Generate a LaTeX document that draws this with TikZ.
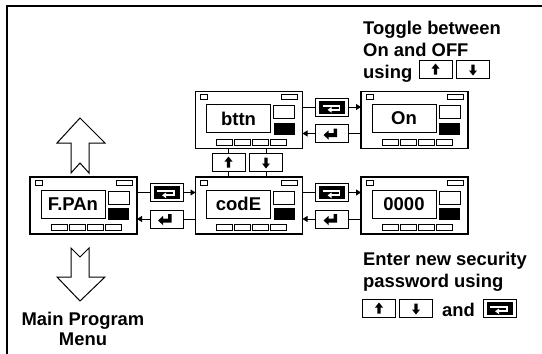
\documentclass[tikz,border=0pt]{standalone}
\usepackage{fontspec}
\setmainfont{Liberation Sans}
\usetikzlibrary{arrows.meta}

\tikzset{
  panel/.style={draw, line width=1.3pt, minimum width=107pt, minimum height=57pt, inner sep=0pt, outer sep=0pt},
  part/.style={line width=0.9pt},
  screen/.style={font=\fontsize{18.5}{20}\selectfont\bfseries, inner sep=0pt},
  note/.style={font=\fontsize{18.4}{22}\selectfont\bfseries, inner sep=0pt},
  keybox/.style={draw, line width=0.9pt, minimum width=33pt, minimum height=18pt, inner sep=0pt, outer sep=0pt},
  keyup/.style={keybox, path picture={
      \fill[shift={(path picture bounding box.center)}] (0,-6) -- (4,-1) -- (1.7,-1) -- (1.7,5) -- (-1.7,5) -- (-1.7,-1) -- (-4,-1) -- cycle;}},
  keydown/.style={keybox, path picture={
      \fill[shift={(path picture bounding box.center)}] (0,6) -- (4,1) -- (1.7,1) -- (1.7,-5) -- (-1.7,-5) -- (-1.7,1) -- (-4,1) -- cycle;}},
  keyenter/.style={keybox, path picture={
      \fill[shift={(path picture bounding box.center)}] (5,-5) -- (5,3.5) -- (-3.5,3.5) -- (-3.5,6) -- (-8.5,1.5) -- (-3.5,-3) -- (-3.5,-0.5) -- (1.5,-0.5) -- (1.5,-5) -- cycle;}},
  keyloop/.style={keybox, path picture={
      \begin{scope}[shift={(path picture bounding box.center)}]
        \fill (-13,-6.5) rectangle (13,6.5);
        \draw[white, line width=1.8pt] (-9.5,-1.2) -- (7.5,-1.2) -- (7.5,2.8) -- (-1,2.8);
        \fill[white] (-0.5,0) -- (-4.5,2.8) -- (-0.5,5.6) -- cycle;
      \end{scope}}},
  flow/.style={line width=0.9pt, -{Triangle[length=5pt,width=6pt]}},
  wire/.style={line width=0.9pt},
  hollow/.style={line width=1pt, line join=miter},
}

% one front panel: name, centre, display text
\newcommand{\drawpanel}[3]{%
  \node[panel] (#1) at (#2) {};
  \begin{scope}[shift={(#1.north west)}]
    \draw[part] (5,3) rectangle (12,8);
    \draw[part] (86,3) rectangle (102,8);
    \draw[part] (11,13) rectangle (75,41);
    \draw[part] (78,14) rectangle (99,27);
    \fill (78,31) rectangle (99,43);
    \foreach \bx in {21,39,57,75}
      \draw[part] (\bx,47.5) rectangle (\bx+16,53.5);
    \node[screen] at (43,27) {#3};
  \end{scope}}

\begin{document}
\begin{tikzpicture}[x=1pt, y=-1pt]
  \useasboundingbox (0,0) rectangle (542,354);
  \draw[line width=2pt] (7,354) -- (7,6) -- (542,6);

  % panels
  \drawpanel{fpan}{83.5,205.5}{F.PAn}
  \drawpanel{code}{249,205.5}{codE}
  \drawpanel{bttn}{249,120}{bttn}
  \drawpanel{on}{414.5,120}{On}
  \drawpanel{pass}{414.5,205.5}{0000}

  % keys between panels
  \node[keyloop] (sfc) at (166.5,192.5) {};
  \node[keyenter] (efc) at (166.5,219) {};
  \node[keyloop] (scp) at (332,192.5) {};
  \node[keyenter] (ecp) at (332,219) {};
  \node[keyloop] (sbo) at (332,107) {};
  \node[keyenter] (ebo) at (332,133.5) {};
  \node[keyup] (ubc) at (228.5,162.5) {};
  \node[keydown] (dbc) at (266,162.5) {};

  \draw[wire] (fpan.east |- sfc) -- (sfc);
  \draw[flow] (sfc) -- (code.west |- sfc);
  \draw[wire] (code.west |- efc) -- (efc);
  \draw[flow] (efc) -- (fpan.east |- efc);

  \draw[wire] (code.east |- scp) -- (scp);
  \draw[flow] (scp) -- (pass.west |- scp);
  \draw[wire] (pass.west |- ecp) -- (ecp);
  \draw[flow] (ecp) -- (code.east |- ecp);

  \draw[wire] (bttn.east |- sbo) -- (sbo);
  \draw[flow] (sbo) -- (on.west |- sbo);
  \draw[wire] (on.west |- ebo) -- (ebo);
  \draw[flow] (ebo) -- (bttn.east |- ebo);

  \draw[wire] (bttn.south -| ubc) -- (ubc);
  \draw[wire] (ubc) -- (code.north -| ubc);
  \draw[wire] (bttn.south -| dbc) -- (dbc);
  \draw[wire] (dbc) -- (code.north -| dbc);

  % big hollow arrows
  \draw[hollow] (80,118) -- (105,143) -- (89,143) -- (89,173) -- (80,163) -- (71,173) -- (71,143) -- (57,143) -- cycle;
  \draw[hollow] (71,248) -- (80,257) -- (89,248) -- (89,277) -- (105,277) -- (80,301) -- (57,277) -- (71,277) -- cycle;

  \node[note, anchor=base] (menu1) at (83,325) {Main Program};
  \node[note, anchor=base] (menu2) at (83,345.5) {Menu};

  % notes
  \node[note, anchor=base west] (tog1) at (363,34) {Toggle between};
  \node[note, anchor=base west] (tog2) at (363,56.5) {On and OFF};
  \node[note, anchor=base west] (tog3) at (363,78.5) {using};
  \node[keyup] (tup) at (435.5,69.5) {};
  \node[keydown] (tdn) at (473,69.5) {};

  \node[note, anchor=base west] (ent1) at (363,265) {Enter new security};
  \node[note, anchor=base west] (ent2) at (363,287) {password using};
  \node[keyup] (eup) at (379,308.5) {};
  \node[keydown] (edn) at (416,308.5) {};
  \node[note, anchor=base west] (ent3) at (442,316.5) {and};
  \node[keyloop] (esc) at (499.5,308.5) {};
\end{tikzpicture}
\end{document}
